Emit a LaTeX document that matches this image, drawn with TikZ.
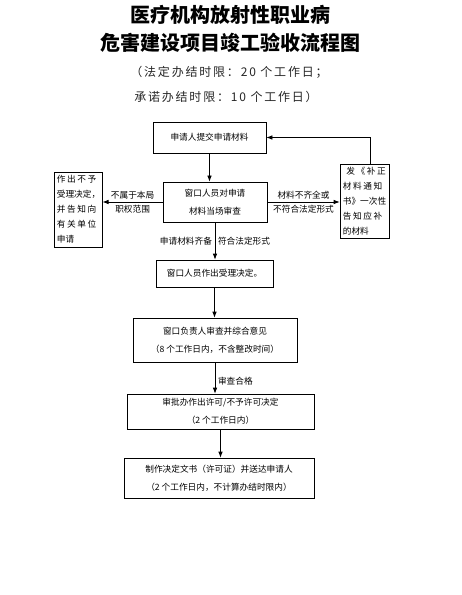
\documentclass[tikz,border=0pt]{standalone}
\usepackage{fontspec}
\setmainfont{Noto Sans CJK SC}
\usepackage{tikz}
\usetikzlibrary{arrows.meta,positioning,calc}
\newcommand{\wideline}[1]{{\addfontfeatures{LetterSpace=18}#1}}

\begin{document}
\begin{tikzpicture}[
  x=0.75pt, y=-0.75pt,
  every node/.style={font=\fontsize{6.5}{13.5}\selectfont},
  stepbox/.style={rectangle, draw=black, line width=0.6pt, align=center, inner sep=1pt},
  sidebox/.style={rectangle, draw=black, line width=0.6pt, align=left, inner sep=1.5pt,
                  font=\fontsize{6.5}{11.25}\selectfont},
  flow/.style={draw=black, line width=0.6pt, -{Latex[length=4.5pt,width=3.5pt]}},
  lbl/.style={font=\fontsize{6.5}{8}\selectfont, inner sep=2pt},
  notetext/.style={font=\fontsize{9}{11}\selectfont\addfontfeatures{LetterSpace=15}, color=black!85}
]
\useasboundingbox (0,0) rectangle (461,595);

% title
\node[font=\fontsize{15}{18}\bfseries] (title1) at (230,15) {医疗机构放射性职业病};
\node[font=\fontsize{15}{18}\bfseries] (title2) at (230,43) {危害建设项目竣工验收流程图};
\node[notetext] (note1) at (229,72) {（法定办结时限：20 个工作日；};
\node[notetext] (note2) at (226,97) {承诺办结时限：10 个工作日）};

% main steps
\node[stepbox, minimum width=84.75pt, minimum height=23.25pt] (submit) at (209.5,137.5) {申请人提交申请材料};
\node[stepbox, minimum width=78pt, minimum height=30pt] (check) at (215,202) {窗口人员对申请\\材料当场审查};
\node[stepbox, minimum width=87.75pt, minimum height=20.25pt] (accept) at (214.5,273.5) {窗口人员作出受理决定。};
\node[stepbox, minimum width=123pt, minimum height=33pt] (review) at (215,340) {窗口负责人审查并综合意见\\（8 个工作日内，不含整改时间）};
\node[stepbox, minimum width=140.25pt, minimum height=26.25pt] (approve) at (220.5,411.5) {审批办作出许可/不予许可决定\\（2 个工作日内）};
\node[stepbox, minimum width=142.5pt, minimum height=30pt] (issue) at (219,478) {制作决定文书（许可证）并送达申请人\\（2 个工作日内，不计算办结时限内）};

% side boxes
\node[sidebox, minimum width=33.75pt, minimum height=56.25pt] (refuse) at (78.5,209.5)
  {\wideline{作出不予}\\受理决定，\\\wideline{并告知向}\\\wideline{有关单位}\\申请};
\node[sidebox, minimum width=36.75pt, minimum height=55.5pt] (notice) at (364.5,201)
  {\wideline{\ 发《补正}\\\wideline{材料通知}\\书》一次性\\\wideline{告知应补}\\的材料};

% connectors
\draw[flow] (submit.south) -- (submit.south |- check.north);
\draw[flow] (check.west) -- node[lbl, above] {不属于本局} node[lbl, below] {职权范围} (refuse.east |- check.west);
\draw[flow] (check.east) -- node[lbl, above] {材料不齐全或} node[lbl, below] {不符合法定形式} (notice.west |- check.east);
\draw[flow] ($(notice.north)+(6,0)$) |- (submit.east);
\draw[flow] (check.south) -- node[lbl, left] {申请材料齐备} node[lbl, right] {符合法定形式} (check.south |- accept.north);
\draw[flow] (accept.south) -- (accept.south |- review.north);
\draw[flow] (review.south) -- node[lbl, right, pos=0.6] {审查合格} (review.south |- approve.north);
\draw[flow] (approve.south) -- (approve.south |- issue.north);
\end{tikzpicture}
\end{document}
